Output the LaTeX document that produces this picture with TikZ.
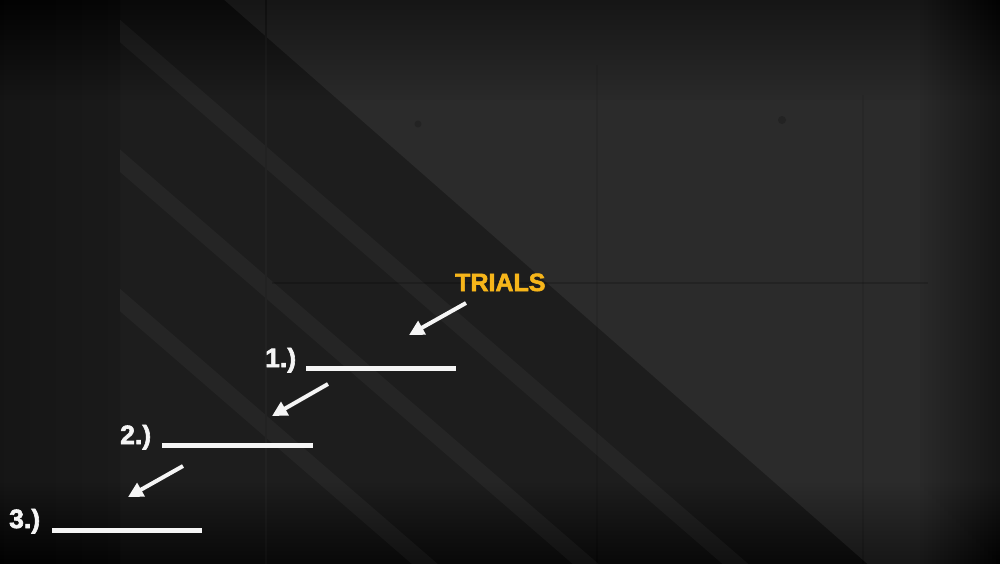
\documentclass[tikz,border=0pt]{standalone}
\usepackage{fontspec}
\setmainfont{Liberation Sans}[BoldFeatures={FakeBold=2.2}]
\usetikzlibrary{arrows.meta}
\definecolor{bgband}{RGB}{29,29,29}
\definecolor{bgleft}{RGB}{26,26,26}
\definecolor{bgfar}{RGB}{21,21,21}
\definecolor{concrete}{RGB}{43,43,43}
\definecolor{stripecol}{RGB}{37,37,37}
\definecolor{seam}{RGB}{34,34,34}
\definecolor{trialsyellow}{RGB}{246,181,26}
\definecolor{chalk}{RGB}{245,245,245}
\tikzset{
  stripe/.style={draw=stripecol, line width=17pt, line cap=butt},
  seamline/.style={draw=black, opacity=0.18, line width=1.4pt},
  pointer/.style={draw=chalk, line width=4pt, -{Triangle[length=15pt,width=15pt]}},
  blank/.style={draw=chalk, line width=5pt, line cap=butt},
  numlabel/.style={anchor=base west, inner sep=0pt, text=chalk, font=\fontsize{26.5}{26.5}\selectfont\bfseries},
  titlelabel/.style={anchor=base west, inner sep=0pt, text=trialsyellow, font=\fontsize{25}{25}\selectfont\bfseries}
}
\begin{document}
\begin{tikzpicture}[x=1pt,y=-1pt]
\useasboundingbox (0,0) rectangle (1000,563);
% base
\fill[bgband] (-10,-10) rectangle (1010,575);
% lighter concrete region
\fill[concrete] (213,-10) -- (1010,-10) -- (1010,575) -- (880,575) -- cycle;
% left dark strip
\shade[left color=bgfar, right color=bgleft] (-10,-10) rectangle (120,575);
% diagonal stripes in dark band
\begin{scope}
  \clip (120,-10) -- (201,-10) -- (880,575) -- (120,575) -- cycle;
  \draw[stripe] (100,13.7) -- (800,619.9);
  \draw[stripe] (100,143.4) -- (700,663.0);
  \draw[stripe] (100,282.7) -- (600,715.7);
\end{scope}
% seams
\draw[draw=seam, line width=2pt] (266,-10) -- (266,575);
\draw[seamline] (272,283) -- (928,283);
\draw[seamline, opacity=0.07] (597,65) -- (597,575);
\draw[seamline, opacity=0.07] (863,95) -- (863,575);
\fill[black, opacity=0.18] (418,124) circle (3.5);
\fill[black, opacity=0.18] (782,120) circle (4);
% vignettes
\foreach \i in {1,...,20} {
  \fill[black, opacity=0.022] (-10,-10) rectangle (1010,{5*\i});
  \fill[black, opacity=0.025] ({1000-4*\i},-10) rectangle (1010,575);
  \fill[black, opacity=0.012] (-10,{563-4*\i}) rectangle (1010,575);
}
% text
\node[titlelabel] (trials) at (455,291) {TRIALS};
\node[numlabel] (n1) at (265,367) {1.)};
\node[numlabel] (n2) at (120,444) {2.)};
\node[numlabel] (n3) at (9,528) {3.)};
% blanks
\coordinate (b1s) at (306,368);
\coordinate (b1e) at (456,368);
\coordinate (b2s) at (162,445.5);
\coordinate (b2e) at (313,445.5);
\coordinate (b3s) at (52,530.5);
\coordinate (b3e) at (202,530.5);
\draw[blank] (b1s) -- (b1e);
\draw[blank] (b2s) -- (b2e);
\draw[blank] (b3s) -- (b3e);
% arrows
\coordinate (a1s) at (466,303);
\coordinate (a1e) at (409,335);
\coordinate (a2s) at (328,384);
\coordinate (a2e) at (272,416);
\coordinate (a3s) at (183,466);
\coordinate (a3e) at (128,497);
\draw[pointer] (a1s) -- (a1e);
\draw[pointer] (a2s) -- (a2e);
\draw[pointer] (a3s) -- (a3e);
\end{tikzpicture}
\end{document}
